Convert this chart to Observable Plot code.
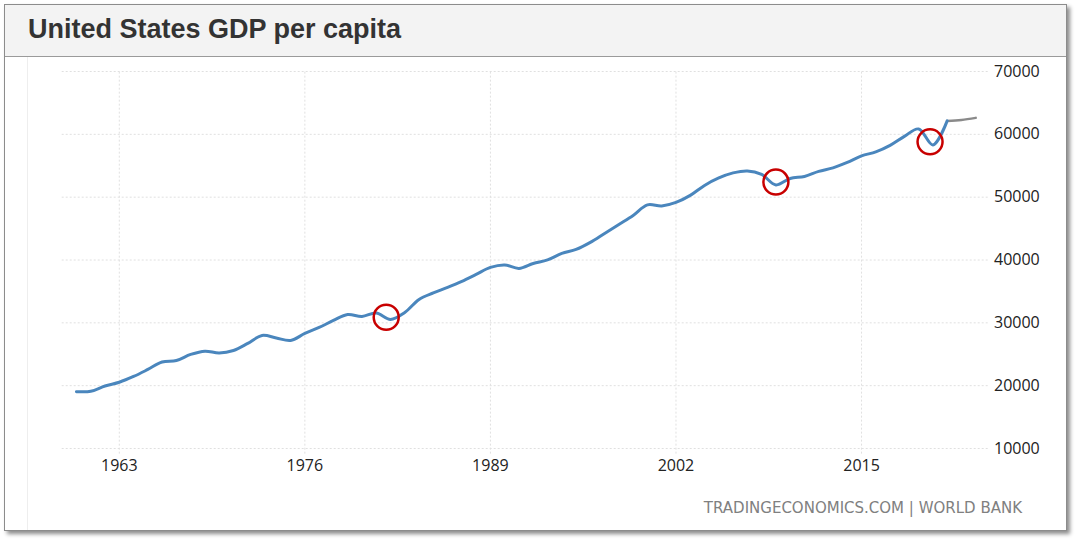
<!DOCTYPE html>
<html><head><meta charset="utf-8">
<script src="https://cdn.jsdelivr.net/npm/d3@7"></script>
<script src="https://cdn.jsdelivr.net/npm/@observablehq/plot@0.6"></script>
<style>
html,body{margin:0;padding:0;background:#fff;}
body{width:1080px;height:543px;overflow:hidden;position:relative;}
#box{position:absolute;left:4px;top:4px;width:1061px;height:525px;border:1px solid #8c8c8c;box-shadow:3px 3px 4px rgba(0,0,0,0.45);background:#fff;}
#title{height:51px;background:#f3f3f3;border-bottom:1px solid #9a9a9a;font:bold 27px "Liberation Sans",Arial,sans-serif;color:#333;padding-left:23px;line-height:48px;box-sizing:content-box;}
#edge{position:absolute;left:22px;top:52px;width:1px;height:473px;background:#eeeeee;}
#chart{position:absolute;left:0;top:52px;}
#source{position:absolute;right:44px;top:494px;font:15px "DejaVu Sans",sans-serif;color:#808080;white-space:nowrap;}
</style>
</head><body>
<div id="box">
  <div id="title">United States GDP per capita</div>
  <div id="edge"></div>
  <div id="chart"></div>
  <div id="source">TRADINGECONOMICS.COM | WORLD BANK</div>
</div>
<script>
const years = [1960,1961,1962,1963,1964,1965,1966,1967,1968,1969,
  1970,1971,1972,1973,1974,1975,1976,1977,1978,1979,
  1980,1981,1982,1983,1984,1985,1986,1987,1988,1989,
  1990,1991,1992,1993,1994,1995,1996,1997,1998,1999,
  2000,2001,2002,2003,2004,2005,2006,2007,2008,2009,
  2010,2011,2012,2013,2014,2015,2016,2017,2018,2019,
  2020,2021];
const gdpPerCapita = [19050,19100,19950,20550,21460,22580,23770,24010,24970,25490,
  25200,25600,26720,27990,27590,27190,28310,29260,30380,31330,
  31010,31570,30540,31650,33720,34760,35630,36590,37700,38820,
  39210,38660,39450,40010,41040,41680,42800,44230,45660,47090,
  48770,48600,49160,50280,51870,53060,53860,54180,53620,51950,
  52980,53300,54100,54660,55530,56570,57200,58240,59670,60860,
  58320,62140];
const forecastYears = [2021,2022,2023];
const forecastValues = [62140,62300,62620];
const xTicks = [1963,1976,1989,2002,2015];
const yTicks = [10000,20000,30000,40000,50000,60000,70000];
const markYears = [1981.7,2009.0,2019.8];
const markValues = [30900,52400,58800];

const series = years.map((y,i)=>({year:y, value:gdpPerCapita[i]}));
const forecast = forecastYears.map((y,i)=>({year:y, value:forecastValues[i]}));
const marks = markYears.map((y,i)=>({year:y, value:markValues[i]}));

const fmt = d => String(d);
const chart = Plot.plot({
  width:1061, height:472,
  marginLeft:56.7, marginRight:76.5, marginTop:14, marginBottom:81,
  x:{domain:[1959,2024]},
  y:{domain:[10000,70000]},
  style:{fontFamily:'"Open Sans", sans-serif', fontSize:'16px', color:'#222', background:'transparent', overflow:'visible'},
  marks:[
    Plot.gridY(yTicks, {stroke:'#e0e0e0', strokeOpacity:1, strokeDasharray:'2,2'}),
    Plot.ruleX(xTicks, {x:d=>d, y1:9100, y2:70000, stroke:'#e0e0e0', strokeDasharray:'2,2'}),
    Plot.axisY(yTicks, {anchor:'right', tickSize:0, tickPadding:4, tickFormat:fmt, label:null, fontSize:16}),
    Plot.axisX(xTicks, {anchor:'bottom', tickSize:0, tickPadding:11, tickFormat:fmt, label:null, fontSize:16}),
    Plot.line(forecast, {x:'year', y:'value', stroke:'#8a8a8a', strokeWidth:2.5, curve:'catmull-rom'}),
    Plot.line(series, {x:'year', y:'value', stroke:'#4a86bd', strokeWidth:3, curve:'catmull-rom'}),
    Plot.dot(marks, {x:'year', y:'value', r:12.5, stroke:'#c80000', strokeWidth:2.5, fill:'none'})
  ]
});
document.getElementById('chart').appendChild(chart);
</script>
</body></html>
